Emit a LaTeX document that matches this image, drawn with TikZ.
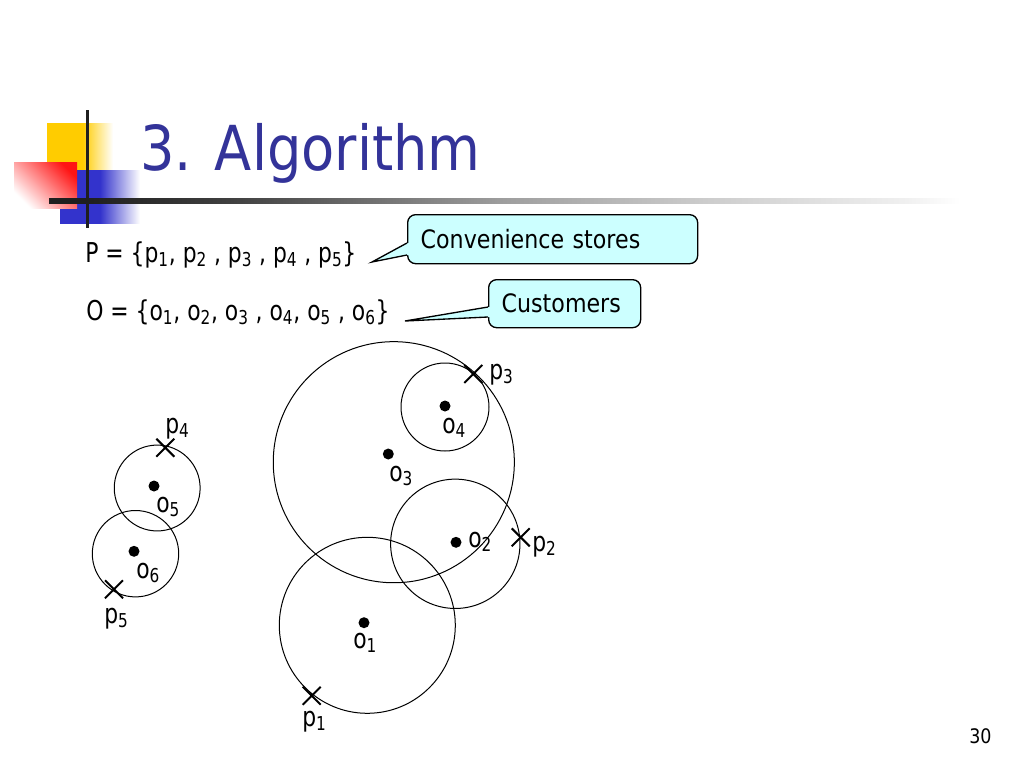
\documentclass[tikz,border=0pt]{standalone}
\usepackage{fontspec}
\setmainfont{DejaVu Sans}[FakeStretch=0.875]
\newfontfamily\bodyfam{DejaVu Sans}[FakeStretch=0.8]
\usetikzlibrary{shapes.misc}
\definecolor{ttl}{RGB}{51,51,153}
\definecolor{callfill}{RGB}{204,255,255}
\definecolor{ppyel}{RGB}{255,204,0}
\definecolor{ppblue}{RGB}{51,51,204}
\definecolor{ppred}{RGB}{255,20,20}
\pgfdeclarehorizontalshading{yelfade}{100bp}{color(0bp)=(ppyel); color(52bp)=(ppyel); color(75bp)=(white); color(100bp)=(white)}
\pgfdeclarehorizontalshading{bluefade}{100bp}{color(0bp)=(ppblue); color(50bp)=(ppblue); color(75bp)=(white); color(100bp)=(white)}
\pgfdeclareverticalshading{redfade}{100bp}{color(0bp)=(white); color(25bp)=(white); color(75bp)=(ppred); color(100bp)=(ppred)}
\pgfdeclarehorizontalshading{linefade}{100bp}{color(0bp)=(black!88); color(27bp)=(black!88); color(35bp)=(black!75); color(50bp)=(black!38); color(61bp)=(black!20); color(72bp)=(black!6); color(75bp)=(white); color(100bp)=(white)}
\tikzset{
  bodytext/.style={anchor=base west, inner sep=0pt, font=\bodyfam\fontsize{20.5}{25}\selectfont},
  lbl/.style={bodytext},
  callbox/.style={draw=black, line width=1pt, fill=callfill, rounded corners=6pt,
     anchor=north west, align=left, inner xsep=9.75pt, inner ysep=0pt,
     font=\fontsize{19}{23}\selectfont},
  storecross/.style={draw, cross out, minimum size=12pt, inner sep=0pt, line width=1.5pt},
  custdot/.style={circle, fill=black, minimum size=8.25pt, inner sep=0pt},
  ring/.style={draw=black, line width=0.75pt},
}
\begin{document}
\begin{tikzpicture}[x=0.75pt, y=-0.75pt]
\useasboundingbox[fill=white] (0,0) rectangle (1024,768);
% title decoration
\shade[shading=yelfade] (47,123) rectangle (113,190);
\shade[shading=bluefade] (60,170) rectangle (140,223);
\shade[shading=redfade, shading angle=-45] (14,162) rectangle (77,208);
\draw[line width=2.25pt, black!88] (87,110) -- (87,228);
\shade[shading=linefade] (49,198) rectangle (960,203);
\node[anchor=base west, inner sep=0pt, text=ttl, font=\fontsize{46.5}{56}\selectfont] (title) at (140,170) {3. Algorithm};
% sets
\node[bodytext] (Pset) at (85,262) {P = \{p\textsubscript{1}, p\textsubscript{2} , p\textsubscript{3} , p\textsubscript{4} , p\textsubscript{5}\}};
\node[bodytext] (Oset) at (86,320) {O = \{o\textsubscript{1}, o\textsubscript{2}, o\textsubscript{3} , o\textsubscript{4}, o\textsubscript{5} , o\textsubscript{6}\}};
% callouts
\node[callbox, text width=198pt, minimum height=36.75pt] (cs) at (407,214) {Convenience stores};
\coordinate (cstip) at (372,262);
\fill[callfill] ([yshift=-21.75pt]cs.north west) -- (cstip) -- ([yshift=-30.75pt]cs.north west) -- ++(3,0) -- ([xshift=2.25pt,yshift=-21.75pt]cs.north west) -- cycle;
\draw[line width=1pt] ([yshift=-21.75pt]cs.north west) -- (cstip) -- ([yshift=-30.75pt]cs.north west);
\node[callbox, text width=94.5pt, minimum height=36pt] (cu) at (488,279) {Customers};
\coordinate (cutip) at (405,321);
\fill[callfill] ([yshift=-21pt]cu.north west) -- (cutip) -- ([yshift=-28.5pt]cu.north west) -- ++(3,0) -- ([xshift=2.25pt,yshift=-21pt]cu.north west) -- cycle;
\draw[line width=1pt] ([yshift=-21pt]cu.north west) -- (cutip) -- ([yshift=-28.5pt]cu.north west);
% circles
\draw[ring] (393.8,462.2) circle[radius=90.4pt];
\draw[ring] (445,407) circle[radius=33pt];
\draw[ring] (455.3,543.8) circle[radius=48.5pt];
\draw[ring] (367.3,625.3) circle[radius=66pt];
\draw[ring] (157.2,488) circle[radius=32.2pt];
\draw[ring] (135.5,553.7) circle[radius=32.4pt];
% customers
\node[custdot] (o1) at (364,622.7) {};
\node[custdot] (o2) at (456,542.3) {};
\node[custdot] (o3) at (388.3,454) {};
\node[custdot] (o4) at (445,406) {};
\node[custdot] (o5) at (154,486) {};
\node[custdot] (o6) at (134,551.3) {};
% stores
\node[storecross] (p1) at (311.7,695.7) {};
\node[storecross] (p2) at (520.7,537.3) {};
\node[storecross] (p3) at (473.3,374) {};
\node[storecross] (p4) at (165.3,447.7) {};
\node[storecross] (p5) at (114,589.3) {};
% labels
\node[lbl] (lo1) at (353,648) {o\textsubscript{1}};
\node[lbl] (lo2) at (468,547) {o\textsubscript{2}};
\node[lbl] (lo3) at (389,481) {o\textsubscript{3}};
\node[lbl] (lo4) at (442,433) {o\textsubscript{4}};
\node[lbl] (lo5) at (156,512) {o\textsubscript{5}};
\node[lbl] (lo6) at (136,578) {o\textsubscript{6}};
\node[lbl] (lp1) at (302,726) {p\textsubscript{1}};
\node[lbl] (lp2) at (532,551) {p\textsubscript{2}};
\node[lbl] (lp3) at (489,379) {p\textsubscript{3}};
\node[lbl] (lp4) at (165,433) {p\textsubscript{4}};
\node[lbl] (lp5) at (104,623) {p\textsubscript{5}};
% page number
\node[anchor=base west, inner sep=0pt, font=\fontsize{15}{18}\selectfont] (pg) at (969,743) {30};
\end{tikzpicture}
\end{document}
